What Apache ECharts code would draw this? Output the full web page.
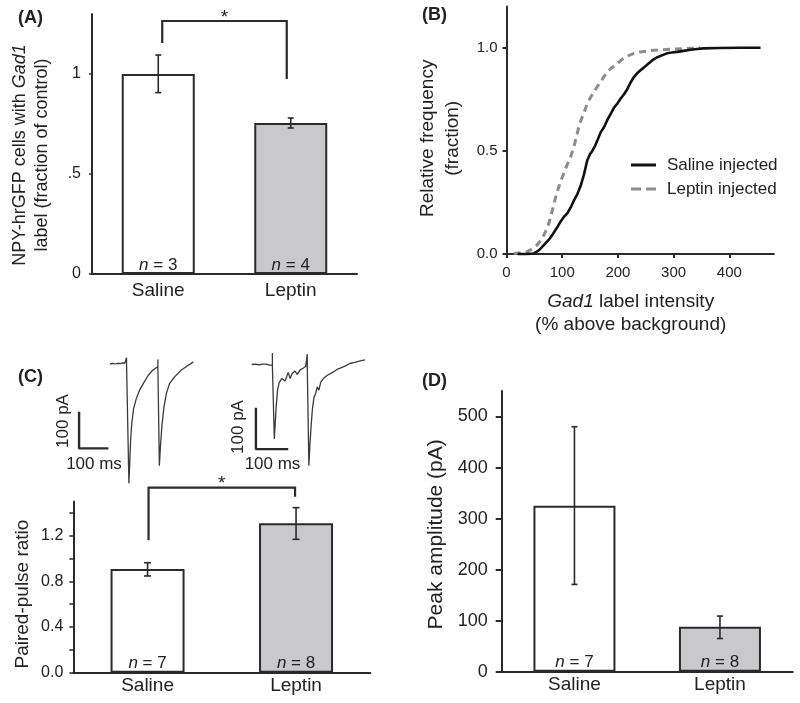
<!DOCTYPE html>
<html><head><meta charset="utf-8">
<script src="https://cdn.jsdelivr.net/npm/echarts@6/dist/echarts.min.js"></script>
<style>html,body{margin:0;padding:0;background:#fff}#c{width:800px;height:703px}</style>
</head><body><div id="c"></div>
<script>
// ---------- DATA ----------
const groups = ['Saline', 'Leptin'];
// (A) NPY-hrGFP cells with Gad1 label
const gadMean = [1.0, 0.755];
const gadErr = [[0.907, 1.095], [0.73, 0.78]];
const gadN = [3, 4];
const gadBracket = [1.155, 1.265, 0.975];
const gadTicks = [0, 0.5, 1];
// (B) cumulative distributions
const salineX = [20, 35, 49, 58, 67, 76, 82, 90, 97, 103, 109, 115, 121, 127, 133, 139, 145, 150, 154, 159, 163, 169, 175, 181, 187, 193, 199, 205, 211, 217, 222, 228, 234, 240, 247, 255, 262, 270, 279, 288, 297, 306, 318, 330, 342, 354, 380, 420, 456];
const salineY = [0, 0, 0.003, 0.018, 0.044, 0.07, 0.092, 0.125, 0.157, 0.18, 0.197, 0.225, 0.26, 0.29, 0.33, 0.385, 0.455, 0.485, 0.5, 0.525, 0.55, 0.59, 0.615, 0.65, 0.68, 0.71, 0.73, 0.754, 0.775, 0.80, 0.828, 0.855, 0.875, 0.89, 0.905, 0.924, 0.94, 0.953, 0.963, 0.973, 0.977, 0.98, 0.985, 0.99, 0.994, 0.997, 0.999, 1.0, 1.0];
const leptinX = [13, 25, 37, 46, 55, 61, 67, 72, 76, 80, 84, 90, 97, 106, 115, 121, 127, 131, 136, 141, 145, 151, 157, 163, 169, 175, 181, 190, 199, 208, 217, 228, 240, 258, 276, 297, 318, 335, 348];
const leptinY = [0.003, 0.006, 0.011, 0.025, 0.044, 0.065, 0.092, 0.12, 0.149, 0.19, 0.23, 0.294, 0.35, 0.415, 0.47, 0.52, 0.585, 0.63, 0.665, 0.70, 0.73, 0.76, 0.787, 0.812, 0.835, 0.86, 0.884, 0.905, 0.924, 0.945, 0.96, 0.972, 0.98, 0.986, 0.99, 0.993, 0.995, 0.998, 1.0];
const cdfXTicks = [0, 100, 200, 300, 400];
const cdfYTicks = [0, 0.5, 1.0];
// (C) example traces [ms, pA]
const salineTrace = [[-62,0],[-52,2],[-44,0],[-36,2],[-28,1],[-20,3],[-12,2],[-6,3],[-6,17],[-6,2],[-2,1],[0,0],[2,-325],[5,-268],[8,-205],[12,-160],[18,-122],[27,-95],[38,-72],[52,-52],[67,-32],[82,-18],[94,-11],[101,-8],[101,12],[101,-8],[103,-8],[106,-277],[110,-220],[115,-166],[122,-116],[130,-80],[141,-53],[158,-35],[180,-17],[195,-9],[205,-3],[214,1],[222,6]];
const leptinTrace = [[-69,0],[-60,1],[-52,0],[-44,-1],[-36,1],[-25,1],[-16,-1],[-10,-2],[-5,-3],[-5,28],[-5,-3],[-1,-3],[1,-180],[4,-140],[7,-99],[11,-62],[16,-44],[24,-34],[29,-30],[34,-40],[39,-30],[44,-19],[50,-34],[56,-22],[65,-16],[72,-24],[81,-13],[90,-9],[98,-5],[103,-3],[103,25],[103,-3],[106,-4],[108,-245],[111,-196],[115,-148],[119,-107],[124,-79],[129,-70],[134,-54],[139,-62],[145,-42],[153,-34],[165,-26],[175,-22],[184,-18],[195,-12],[205,-9],[220,-4],[236,3],[250,5],[267,9],[282,11]];
const salineScaleBar = [[-168,-130],[-168,-230],[-68,-230]];
const leptinScaleBar = [[-56,-105],[-56,-205],[44,-205]];
// (C) paired-pulse ratio
const pprMean = [0.908, 1.308];
const pprErr = [[0.847, 0.963], [1.168, 1.445]];
const pprN = [7, 8];
const pprBracket = [1.16, 1.62, 1.54];
const pprTickValues = [0, 0.2, 0.4, 0.6, 0.8, 1.0, 1.2, 1.4];
const pprLabelValues = [0, 0.4, 0.8, 1.2];
// (D) peak amplitude
const ampMean = [325, 88];
const ampErr = [[171, 480], [65, 109]];
const ampN = [7, 8];
const ampTicks = [0, 100, 200, 300, 400, 500];

// ---------- STYLE ----------
const FF = 'Liberation Sans, Arial, sans-serif';
const INK = '#2a2a2a';
const TXT = '#222';
const barColors = ['#ffffff', '#c9c9cb'];
const salineColor = '#111';
const leptinColor = '#8c8c8c';

function barData(vals) {
  return vals.map((v, i) => ({ value: v, itemStyle: { color: barColors[i] } }));
}
function errData(err) { return err.map((e, i) => [i, e[0], e[1]]); }
function errRender(capHalf) {
  return function (params, api) {
    const x = api.value(0);
    const lo = api.coord([x, api.value(1)]);
    const hi = api.coord([x, api.value(2)]);
    const st = { stroke: INK, lineWidth: 1.6 };
    return { type: 'group', children: [
      { type: 'line', shape: { x1: lo[0], y1: lo[1], x2: hi[0], y2: hi[1] }, style: st },
      { type: 'line', shape: { x1: lo[0] - capHalf, y1: lo[1], x2: lo[0] + capHalf, y2: lo[1] }, style: st },
      { type: 'line', shape: { x1: hi[0] - capHalf, y1: hi[1], x2: hi[0] + capHalf, y2: hi[1] }, style: st }
    ]};
  };
}
function bracketRender(inset, starSize) {
  return function (params, api) {
    const a = api.coord([0, api.value(0)]);
    const b = api.coord([0, api.value(1)]);
    const c = api.coord([1, api.value(1)]);
    const d = api.coord([1, api.value(2)]);
    const pts = [[a[0] + inset, a[1]], [b[0] + inset, b[1]], [c[0] - inset, c[1]], [d[0] - inset, d[1]]];
    return { type: 'group', children: [
      { type: 'polyline', shape: { points: pts }, style: { stroke: INK, lineWidth: 2.2, fill: null } },
      { type: 'text', x: (b[0] + c[0]) / 2, y: b[1] + 6, style: { text: '*', align: 'center', verticalAlign: 'bottom', font: starSize + 'px ' + FF, fill: TXT } }
    ]};
  };
}
function nLabel(nArr, size, dist) {
  return {
    show: true, position: 'insideBottom', distance: dist,
    formatter: p => '{i|n} = ' + nArr[p.dataIndex],
    fontFamily: FF, fontSize: size, color: TXT,
    rich: { i: { fontStyle: 'italic', fontFamily: FF, fontSize: size, color: TXT } }
  };
}
function axisLineStyle() { return { show: true, lineStyle: { color: INK, width: 2 } }; }

// ---------- LAYOUT (trace grids from px-per-unit scales) ----------
const trS = { x0: 128.3, y0: 364, kx: 0.293, ky: 0.367, xmin: -175, xmax: 225, ymin: -340, ymax: 30 };
const trL = { x0: 274, y0: 364.5, kx: 0.323, ky: 0.413, xmin: -75, xmax: 290, ymin: -260, ymax: 35 };
function traceGrid(t) {
  return { left: t.x0 + t.xmin * t.kx, top: t.y0 - t.ymax * t.ky, width: (t.xmax - t.xmin) * t.kx, height: (t.ymax - t.ymin) * t.ky };
}

const grids = [
  { left: 92, top: 14, width: 265, height: 260 },
  { left: 506.5, top: 6.5, width: 267.4, height: 247.6 },
  { left: 73.3, top: 501.4, width: 297, height: 171.3 },
  traceGrid(trS),
  traceGrid(trL),
  { left: 501.7, top: 391, width: 291, height: 280.7 }
];

const catAxis = (gi, size, margin) => ({
  type: 'category', gridIndex: gi, data: groups,
  axisLine: axisLineStyle(), axisTick: { show: false },
  axisLabel: { fontFamily: FF, fontSize: size, color: TXT, margin: margin }
});

const option = {
  backgroundColor: '#fff',
  animation: false,
  grid: grids,
  legend: {
    data: [
      { name: 'Saline injected', icon: 'rect', itemStyle: { color: salineColor } },
      { name: 'Leptin injected', icon: 'path://M0,0h10v3h-10z M15,0h10v3h-10z', itemStyle: { color: leptinColor } }
    ],
    orient: 'vertical', left: 626, top: 150, padding: 5, itemWidth: 25, itemHeight: 3, itemGap: 4,
    textStyle: { fontFamily: FF, fontSize: 17, color: TXT, lineHeight: 20, padding: [0, 0, 0, 6] }
  },
  xAxis: [
    catAxis(0, 19, 7),
    { type: 'value', gridIndex: 1, min: 0, max: 480,
      axisLine: axisLineStyle(),
      axisTick: { show: true, length: 4, lineStyle: { color: INK, width: 2 }, customValues: cdfXTicks },
      axisLabel: { fontFamily: FF, fontSize: 15, color: TXT, margin: 11, customValues: cdfXTicks },
      splitLine: { show: false },
      name: '{i|Gad1} label intensity\n(% above background)', nameLocation: 'middle', nameGap: 36,
      nameTextStyle: { fontFamily: FF, fontSize: 19, color: TXT, lineHeight: 23, padding: [0, 19, 0, 0],
        rich: { i: { fontStyle: 'italic', fontFamily: FF, fontSize: 19, color: TXT } } } },
    catAxis(2, 19, 4),
    { type: 'value', gridIndex: 3, min: trS.xmin, max: trS.xmax, show: false },
    { type: 'value', gridIndex: 4, min: trL.xmin, max: trL.xmax, show: false },
    catAxis(5, 19, 4)
  ],
  yAxis: [
    { type: 'value', gridIndex: 0, min: 0, max: 1.3,
      axisLine: axisLineStyle(),
      axisTick: { show: true, length: 3, lineStyle: { color: INK, width: 1.5 }, customValues: gadTicks },
      axisLabel: { fontFamily: FF, fontSize: 16, color: TXT, margin: 11, customValues: gadTicks,
        formatter: v => v === 0 ? '0' : (v === 1 ? '1' : '.5') },
      splitLine: { show: false },
      name: 'NPY-hrGFP cells with {i|Gad1}\nlabel (fraction of control)', nameLocation: 'middle', nameRotate: 90, nameGap: 39,
      nameTextStyle: { fontFamily: FF, fontSize: 18, color: TXT, lineHeight: 22, padding: [0, 22, 0, 0],
        rich: { i: { fontStyle: 'italic', fontFamily: FF, fontSize: 18, color: TXT } } } },
    { type: 'value', gridIndex: 1, min: 0, max: 1.2,
      axisLine: axisLineStyle(),
      axisTick: { show: true, length: 4, lineStyle: { color: INK, width: 2 }, customValues: cdfYTicks },
      axisLabel: { fontFamily: FF, fontSize: 15, color: TXT, margin: 9, customValues: cdfYTicks, formatter: v => v.toFixed(1) },
      splitLine: { show: false },
      name: 'Relative frequency\n(fraction)', nameLocation: 'middle', nameRotate: 90, nameGap: 41,
      nameTextStyle: { fontFamily: FF, fontSize: 19, color: TXT, lineHeight: 25, padding: [0, 16, 0, 0] } },
    { type: 'value', gridIndex: 2, min: 0, max: 1.5,
      axisLine: axisLineStyle(),
      axisTick: { show: true, length: 4, lineStyle: { color: INK, width: 1.5 }, customValues: pprTickValues },
      axisLabel: { fontFamily: FF, fontSize: 16, color: TXT, margin: 10, customValues: pprLabelValues, formatter: v => v.toFixed(1) },
      splitLine: { show: false },
      name: 'Paired-pulse ratio', nameLocation: 'middle', nameRotate: 90, nameGap: 41,
      nameTextStyle: { fontFamily: FF, fontSize: 19, color: TXT, padding: [0, 14, 0, 0] } },
    { type: 'value', gridIndex: 3, min: trS.ymin, max: trS.ymax, show: false },
    { type: 'value', gridIndex: 4, min: trL.ymin, max: trL.ymax, show: false },
    { type: 'value', gridIndex: 5, min: 0, max: 550,
      axisLine: axisLineStyle(),
      axisTick: { show: true, length: 6, lineStyle: { color: INK, width: 2 }, customValues: ampTicks },
      axisLabel: { fontFamily: FF, fontSize: 18, color: TXT, margin: 14, customValues: ampTicks },
      splitLine: { show: false },
      name: 'Peak amplitude (pA)', nameLocation: 'middle', nameRotate: 90, nameGap: 55,
      nameTextStyle: { fontFamily: FF, fontSize: 21, color: TXT, padding: [0, 6, 0, 0] } }
  ],
  series: [
    // A
    { type: 'bar', xAxisIndex: 0, yAxisIndex: 0, data: barData(gadMean), barWidth: 73,
      itemStyle: { borderColor: INK, borderWidth: 2 }, label: nLabel(gadN, 17, 0) },
    { type: 'custom', xAxisIndex: 0, yAxisIndex: 0, data: errData(gadErr), renderItem: errRender(3), z: 5 },
    { type: 'custom', xAxisIndex: 0, yAxisIndex: 0, data: [gadBracket], renderItem: bracketRender(4, 19), clip: false, z: 5 },
    // B
    { name: 'Saline injected', type: 'line', xAxisIndex: 1, yAxisIndex: 1, symbol: 'none', z: 4,
      data: salineX.map((x, i) => [x, salineY[i]]), lineStyle: { color: salineColor, width: 2.6 }, itemStyle: { color: salineColor } },
    { name: 'Leptin injected', type: 'line', xAxisIndex: 1, yAxisIndex: 1, symbol: 'none', z: 3,
      data: leptinX.map((x, i) => [x, leptinY[i]]), lineStyle: { color: leptinColor, width: 3, type: [7, 5] }, itemStyle: { color: leptinColor } },
    // C bars
    { type: 'bar', xAxisIndex: 2, yAxisIndex: 2, data: barData(pprMean), barWidth: 74,
      itemStyle: { borderColor: INK, borderWidth: 2 }, label: nLabel(pprN, 17, 1) },
    { type: 'custom', xAxisIndex: 2, yAxisIndex: 2, data: errData(pprErr), renderItem: errRender(3.5), z: 5 },
    { type: 'custom', xAxisIndex: 2, yAxisIndex: 2, data: [pprBracket], renderItem: bracketRender(1, 19), clip: false, z: 5 },
    // C traces
    { type: 'line', xAxisIndex: 3, yAxisIndex: 3, symbol: 'none', data: salineTrace, lineStyle: { color: '#3a3a3a', width: 1.3 } },
    { type: 'line', xAxisIndex: 3, yAxisIndex: 3, symbol: 'none', data: salineScaleBar, lineStyle: { color: INK, width: 2.4 } },
    { type: 'line', xAxisIndex: 4, yAxisIndex: 4, symbol: 'none', data: leptinTrace, lineStyle: { color: '#3a3a3a', width: 1.3 } },
    { type: 'line', xAxisIndex: 4, yAxisIndex: 4, symbol: 'none', data: leptinScaleBar, lineStyle: { color: INK, width: 2.4 } },
    // D
    { type: 'bar', xAxisIndex: 5, yAxisIndex: 5, data: barData(ampMean), barWidth: 82,
      itemStyle: { borderColor: INK, borderWidth: 2 }, label: nLabel(ampN, 17, 1) },
    { type: 'custom', xAxisIndex: 5, yAxisIndex: 5, data: errData(ampErr), renderItem: errRender(3), z: 5 }
  ],
  graphic: [
    { type: 'text', left: 18, top: 9, style: { text: '(A)', font: 'bold 18px ' + FF, fill: TXT } },
    { type: 'text', left: 422, top: 6, style: { text: '(B)', font: 'bold 18px ' + FF, fill: TXT } },
    { type: 'text', left: 18, top: 368, style: { text: '(C)', font: 'bold 18px ' + FF, fill: TXT } },
    { type: 'text', left: 422, top: 372, style: { text: '(D)', font: 'bold 18px ' + FF, fill: TXT } },
    { type: 'text', x: 63, y: 421, rotation: Math.PI / 2, style: { text: '100 pA', align: 'center', verticalAlign: 'middle', font: '17px ' + FF, fill: TXT } },
    { type: 'text', x: 94, y: 464, style: { text: '100 ms', align: 'center', verticalAlign: 'middle', font: '17px ' + FF, fill: TXT } },
    { type: 'text', x: 238, y: 427, rotation: Math.PI / 2, style: { text: '100 pA', align: 'center', verticalAlign: 'middle', font: '17px ' + FF, fill: TXT } },
    { type: 'text', x: 272.5, y: 464, style: { text: '100 ms', align: 'center', verticalAlign: 'middle', font: '17px ' + FF, fill: TXT } }
  ]
};

const chart = echarts.init(document.getElementById('c'), null, { renderer: 'canvas' });
chart.setOption(option);
</script>
</body></html>
